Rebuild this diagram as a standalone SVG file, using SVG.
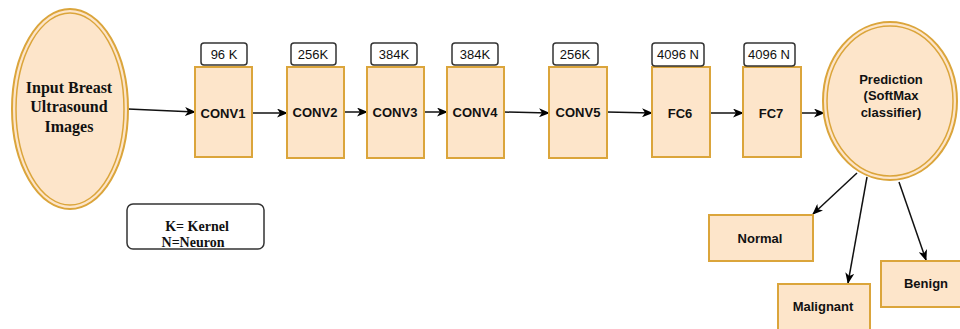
<svg xmlns="http://www.w3.org/2000/svg" width="960" height="329" viewBox="0 0 960 329">
<defs>
<marker id="ah" markerWidth="11" markerHeight="9" refX="10" refY="4.5" orient="auto" markerUnits="userSpaceOnUse">
<path d="M0,0 L11,4.5 L0,9 L3,4.5 Z" fill="#000"/>
</marker>
<style>
.box{fill:#fde5ca;stroke:#dba53b;stroke-width:2}
.lbl{fill:#fff;stroke:#333;stroke-width:1.5}
.t{font-family:"Liberation Sans",Arial,sans-serif;font-weight:bold;font-size:13px;fill:#111;text-anchor:middle}
.s{font-family:"Liberation Sans",Arial,sans-serif;font-size:13px;fill:#111;text-anchor:middle}
.sf{font-family:"Liberation Serif","Times New Roman",serif;font-weight:bold;fill:#111;text-anchor:middle}
.c{stroke:#111;stroke-width:1.5;fill:none;marker-end:url(#ah)}
</style>
</defs>
<rect width="960" height="329" fill="#fff"/>
<g id="connectors">
<line class="c" x1="128" y1="109" x2="195" y2="112"/>
<line class="c" x1="241" y1="113" x2="287" y2="113"/>
<line class="c" x1="344" y1="112" x2="367" y2="112"/>
<line class="c" x1="424" y1="112" x2="447" y2="112"/>
<line class="c" x1="504" y1="112" x2="549" y2="113"/>
<line class="c" x1="607" y1="112" x2="652" y2="113"/>
<line class="c" x1="704" y1="113" x2="743" y2="113"/>
<line class="c" x1="801" y1="113" x2="824" y2="113"/>
<line class="c" x1="857" y1="173" x2="813" y2="214"/>
<line class="c" x1="867" y1="177" x2="848" y2="283"/>
<line class="c" x1="899" y1="182" x2="926" y2="260"/>
</g>
<g id="input">
<ellipse cx="70" cy="109" rx="58" ry="100" class="box"/>
<ellipse cx="70" cy="109" rx="54" ry="96" fill="none" stroke="#dba53b" stroke-width="1.5"/>
<text class="sf" font-size="16" x="69" y="93">Input Breast</text>
<text class="sf" font-size="16" x="69" y="112">Ultrasound</text>
<text class="sf" font-size="16" x="69" y="132">Images</text>
</g>
<g id="conv1">
<rect x="195" y="67" width="57" height="90" class="box"/>
<text class="t" x="223" y="118">CONV1</text>
<rect x="201" y="43" width="46" height="22" rx="3" class="lbl"/>
<text class="s" x="224" y="59">96 K</text>
</g>
<g id="conv2">
<rect x="287" y="67" width="57" height="91" class="box"/>
<text class="t" x="315" y="117">CONV2</text>
<rect x="291" y="43" width="45" height="22" rx="3" class="lbl"/>
<text class="s" x="313" y="59">256K</text>
</g>
<g id="conv3">
<rect x="367" y="67" width="57" height="91" class="box"/>
<text class="t" x="395" y="117">CONV3</text>
<rect x="371" y="43" width="46" height="22" rx="3" class="lbl"/>
<text class="s" x="394" y="59">384K</text>
</g>
<g id="conv4">
<rect x="447" y="67" width="57" height="91" class="box"/>
<text class="t" x="475" y="117">CONV4</text>
<rect x="452" y="43" width="46" height="22" rx="3" class="lbl"/>
<text class="s" x="475" y="59">384K</text>
</g>
<g id="conv5">
<rect x="549" y="67" width="58" height="91" class="box"/>
<text class="t" x="578" y="117">CONV5</text>
<rect x="553" y="43" width="45" height="22" rx="3" class="lbl"/>
<text class="s" x="575" y="59">256K</text>
</g>
<g id="fc6">
<rect x="652" y="67" width="58" height="90" class="box"/>
<text class="t" x="680" y="118">FC6</text>
<rect x="652" y="43" width="52" height="23" rx="3" class="lbl"/>
<text class="s" x="678" y="59">4096 N</text>
</g>
<g id="fc7">
<rect x="743" y="67" width="58" height="90" class="box"/>
<text class="t" x="771" y="118">FC7</text>
<rect x="744" y="43" width="51" height="23" rx="3" class="lbl"/>
<text class="s" x="769" y="59">4096 N</text>
</g>
<g id="prediction">
<ellipse cx="890" cy="101" rx="67" ry="79" class="box"/>
<ellipse cx="890" cy="101" rx="63" ry="75" fill="none" stroke="#dba53b" stroke-width="1.5"/>
<text class="t" x="891" y="84">Prediction</text>
<text class="t" x="891" y="100">(SoftMax</text>
<text class="t" x="891" y="117">classifier)</text>
</g>
<g id="normal">
<rect x="709" y="215" width="104" height="46" class="box"/>
<text class="t" x="760" y="243">Normal</text>
</g>
<g id="malignant">
<rect x="778" y="284" width="92" height="46" class="box"/>
<text class="t" x="823" y="311">Malignant</text>
</g>
<g id="benign">
<rect x="881" y="261" width="82" height="46" class="box"/>
<text class="t" x="926" y="288">Benign</text>
</g>
<g id="legend">
<rect x="127" y="204" width="137" height="45" rx="6" fill="#fff" stroke="#333" stroke-width="1.5"/>
<text class="sf" font-size="14" x="197" y="231">K= Kernel</text>
<text class="sf" font-size="14" x="193" y="247">N=Neuron</text>
</g>
</svg>
